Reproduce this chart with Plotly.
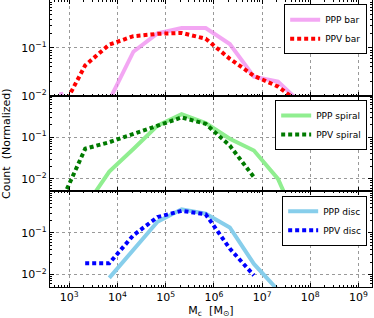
import plotly.graph_objects as go

# bin centres (M_c in solar masses)
mass_bins = [676, 2138, 6761, 21380, 67610, 213800, 676100, 2138000, 6761000, 21380000, 67610000]

# panel 1: bar
ppp_bar = [0.012, 1e-6, 0.008, 0.083, 0.20, 0.26, 0.26, 0.12, 0.025, 0.0196, 0.0066]
ppv_bar = [0.0048, 0.043, 0.117, 0.175, 0.196, 0.205, 0.155, 0.059, 0.026, 0.0155, 0.0065]
# panel 2: spiral
ppp_spiral = [None, 0.0021, 0.015, 0.052, 0.19, 0.36, 0.22, 0.092, 0.048, 0.010, 0.0005]
ppv_spiral = [0.0028, 0.053, 0.076, 0.12, 0.20, 0.30, 0.21, 0.063, 0.011, None, None]
# panel 3: disc
ppp_disc = [None, None, 0.0083, 0.040, 0.185, 0.37, 0.29, 0.135, 0.018, 0.0042, None]
ppv_disc = [None, 0.0187, 0.0187, 0.088, 0.24, 0.34, 0.28, 0.042, 0.0095, None, None]

x_tickvals = [1e3, 1e4, 1e5, 1e6, 1e7, 1e8, 1e9]
x_ticktext = ["10<sup>3</sup>", "10<sup>4</sup>", "10<sup>5</sup>", "10<sup>6</sup>",
              "10<sup>7</sup>", "10<sup>8</sup>", "10<sup>9</sup>"]
y_tickvals = [0.01, 0.1]
y_ticktext = ["10<sup>\u22122</sup>", "10<sup>\u22121</sup>"]

FONT = "DejaVu Sans"
fig = go.Figure()

panels = [
    ("PPP bar", ppp_bar, "rgba(238,130,238,0.7)", "PPV bar", ppv_bar, "#ff0000", "legend"),
    ("PPP spiral", ppp_spiral, "rgba(144,238,144,1)", "PPV spiral", ppv_spiral, "#007a00", "legend2"),
    ("PPP disc", ppp_disc, "rgba(135,206,235,1)", "PPV disc", ppv_disc, "#0000ff", "legend3"),
]
for i, (n1, v1, c1, n2, v2, c2, lg) in enumerate(panels):
    ax = "" if i == 0 else str(i + 1)
    fig.add_trace(go.Scatter(x=mass_bins, y=v1, name=n1, mode="lines",
                             line=dict(color=c1, width=4), xaxis="x" + ax, yaxis="y" + ax,
                             legend=lg, connectgaps=False))
    fig.add_trace(go.Scatter(x=mass_bins, y=v2, name=n2, mode="lines",
                             line=dict(color=c2, width=4, dash="4px,3px"), xaxis="x" + ax, yaxis="y" + ax,
                             legend=lg, connectgaps=False))

h = 1 / 3
domains = [[2 * h, 1], [h, 2 * h], [0, h]]
yranges = [[-2, 0], [-2.3, 0], [-2.3, 0]]
grid = dict(showgrid=True, gridcolor="#999999", gridwidth=1, griddash="dot")
minor = dict(ticks="inside", ticklen=1.5, tickwidth=0.7, tickcolor="black", dtick="D1", showgrid=False)
common_x = dict(type="log", range=[2.6, 9.28], tickvals=x_tickvals, ticktext=x_ticktext,
                ticks="inside", ticklen=4, tickwidth=1, tickcolor="black", showline=True, linecolor="black",
                linewidth=1.2, mirror="allticks", zeroline=False, automargin=False, minor=minor,
                tickfont=dict(family=FONT, size=11, color="black"), **grid)
common_y = dict(type="log", tickvals=y_tickvals, ticktext=y_ticktext,
                ticks="inside", ticklen=4, tickwidth=1, tickcolor="black", showline=True, linecolor="black",
                linewidth=1.2, mirror="allticks", zeroline=False, automargin=False, minor=minor,
                tickfont=dict(family=FONT, size=11, color="black"), **grid)

layout = {}
for i in range(3):
    ax = "" if i == 0 else str(i + 1)
    xa = dict(common_x, anchor="y" + ax, domain=[0, 1])
    if i > 0:
        xa["matches"] = "x"
    if i < 2:
        xa["showticklabels"] = False
    else:
        xa["title"] = dict(text="M<sub>c</sub>  [M<sub>\u2299</sub>]", font=dict(family=FONT, size=11, color="black"),
                           standoff=0)
    layout["xaxis" + ax] = xa
    layout["yaxis" + ax] = dict(common_y, anchor="x" + ax, domain=domains[i], range=yranges[i])

legend_y = [0.985, 2 * h - 0.015, h - 0.015]
for i, key in enumerate(["legend", "legend2", "legend3"]):
    layout[key] = dict(x=0.985, y=legend_y[i], xanchor="right", yanchor="top", bgcolor="white",
                       bordercolor="black", borderwidth=1, font=dict(family=FONT, size=9, color="black"),
                       tracegroupgap=0, itemwidth=30)

fig.update_layout(**layout)
fig.update_layout(
    template="none",
    width=374, height=318, margin=dict(l=50, r=2, t=0, b=31),
    paper_bgcolor="white", plot_bgcolor="white", showlegend=True,
    font=dict(family=FONT, size=11, color="black"),
    annotations=[dict(text="Count  (Normalized)", x=-0.135, y=0.5, xref="paper", yref="paper",
                      textangle=-90, showarrow=False, font=dict(family=FONT, size=11, color="black"),
                      xanchor="center", yanchor="middle")],
)
fig.write_html("out.html", config={"displayModeBar": False},
               post_script="document.body.style.margin='0';")
